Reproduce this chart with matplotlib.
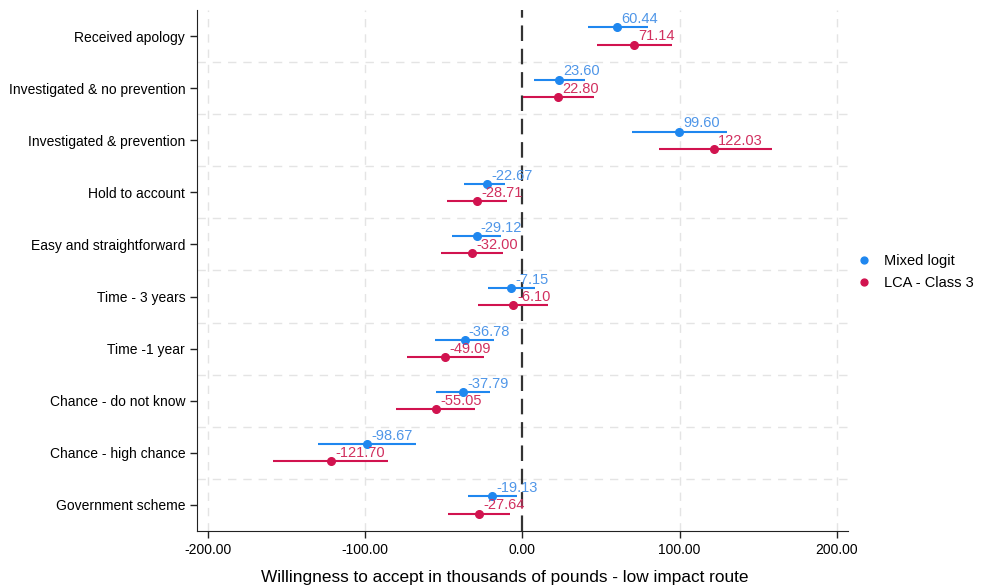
import matplotlib
matplotlib.use('Agg')
import matplotlib.pyplot as plt
import numpy as np

plt.rcParams['font.family'] = ['Liberation Sans', 'DejaVu Sans']

attributes = [
    'Received apology',
    'Investigated & no prevention',
    'Investigated & prevention',
    'Hold to account',
    'Easy and straightforward',
    'Time - 3 years',
    'Time -1 year',
    'Chance - do not know',
    'Chance - high chance',
    'Government scheme',
]

# Mixed logit: estimate and 95% CI
mixed_est = [60.44, 23.60, 99.60, -22.67, -29.12, -7.15, -36.78, -37.79, -98.67, -19.13]
mixed_lo = [41.6, 7.2, 69.7, -37.1, -44.9, -22.0, -55.5, -55.1, -130.3, -34.3]
mixed_hi = [80.1, 40.0, 130.5, -10.8, -13.4, 8.3, -17.8, -20.5, -67.4, -3.6]

# LCA - Class 3: estimate and 95% CI
lca_est = [71.14, 22.80, 122.03, -28.71, -32.00, -6.10, -49.09, -55.05, -121.70, -27.64]
lca_lo = [47.7, 0.2, 86.7, -47.7, -51.5, -28.0, -73.5, -80.1, -158.7, -47.2]
lca_hi = [95.4, 45.4, 158.5, -10.0, -12.5, 16.1, -24.6, -29.9, -85.4, -7.6]

xticks = [-200, -100, 0, 100, 200]

series = [
    ('Mixed logit', mixed_est, mixed_lo, mixed_hi, '#1f87ef', '#4f96e8', -0.165),
    ('LCA - Class 3', lca_est, lca_lo, lca_hi, '#d1134f', '#d1305f', 0.165),
]

fig = plt.figure(figsize=(9.83, 5.88), dpi=100)
ax = fig.add_axes([0.2004, 0.097, 0.662, 0.886])

ypos = np.arange(1, len(attributes) + 1)

# grid
for x in xticks:
    if x != 0:
        ax.axvline(x, color='#e4e4e4', lw=1, ls=(0, (6, 5)), zorder=0)
for y in ypos[:-1] + 0.5:
    ax.axhline(y, color='#e4e4e4', lw=1, ls=(0, (6, 5)), zorder=0)
ax.axvline(0, color='#333333', lw=1.6, ls=(0, (7, 3.5)), zorder=1)

for name, est, lo, hi, col, tcol, off in series:
    y = ypos + off
    ax.hlines(y, lo, hi, color=col, lw=1.5, zorder=2)
    ax.plot(est, y, 'o', color=col, ms=5.5, zorder=3, label=name, ls='none')
    for e, yy in zip(est, y):
        ax.annotate('%.2f' % e, (e, yy), xytext=(3, 3), textcoords='offset points',
                    ha='left', va='baseline', fontsize=10.5, color=tcol, zorder=4)

ax.set_xlim(-207, 207)
ax.set_ylim(10.5, 0.5)
ax.set_yticks(ypos)
ax.set_yticklabels(attributes, fontsize=10)
ax.set_xticks(xticks)
ax.set_xticklabels(['%.2f' % x for x in xticks], fontsize=10)
ax.set_xlabel('Willingness to accept in thousands of pounds - low impact route', fontsize=12.4)
ax.xaxis.set_label_coords(0.473, -0.075)
ax.tick_params(axis='both', direction='out', length=5, width=1, color='#222222')

for s in ['top', 'right']:
    ax.spines[s].set_visible(False)
for s in ['left', 'bottom']:
    ax.spines[s].set_color('#222222')

ax.legend(loc='center left', bbox_to_anchor=(0.982, 0.497), frameon=False, fontsize=10.5,
          handletextpad=0.4, markerscale=0.9)

fig.savefig('out.png', dpi=100)
